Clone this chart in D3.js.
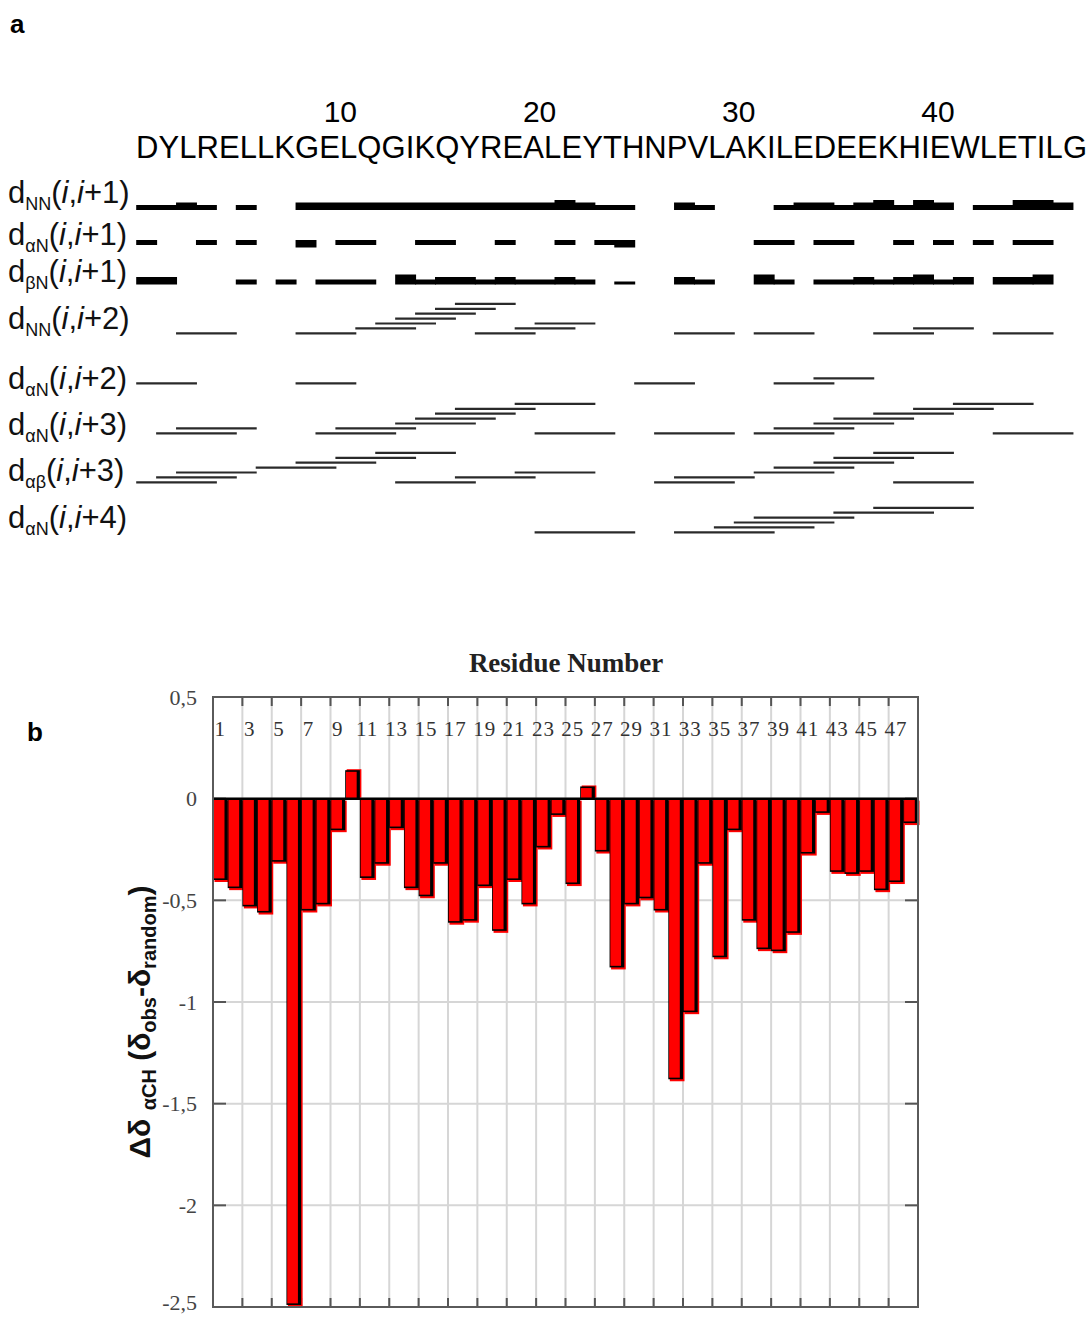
<!DOCTYPE html>
<html>
<head>
<meta charset="utf-8">
<script src="https://cdn.jsdelivr.net/npm/d3@7"></script>
<style>
  body { margin: 0; background: #fff; }
  svg { display: block; background: #fff; }
</style>
</head>
<body>
<div id="chart"></div>
<script>
// ---------- panel a : NOE connectivities ----------
const sequence = "DYLRELLKGELQGIKQYREALEYTHNPVLAKILEDEEKHIEWLETILG";
const seqNumbers = [10, 20, 30, 40];

// row labels: d_sub(i,i+step)
const rowSubs = ["NN", "αN", "βN", "NN", "αN", "αN", "αβ", "αN"];
const rowSteps = [1, 1, 1, 2, 2, 3, 3, 4];

// sequential NOEs, [from, to, strength]
const dNN1 = [[0,2,"w"],[2,3,"m"],[3,4,"w"],[5,6,"w"],[8,21,"m"],[21,22,"s"],[22,23,"m"],[23,25,"w"],
  [27,28,"m"],[28,29,"w"],[32,33,"w"],[33,35,"m"],[35,36,"w"],[36,37,"m"],[37,38,"s"],[38,39,"w"],
  [39,40,"s"],[40,41,"m"],[42,44,"w"],[44,46,"s"],[46,47,"m"]];
const dAN1 = [[0,1,"w"],[3,4,"w"],[5,6,"w"],[8,9,"m"],[10,12,"w"],[14,16,"w"],[18,19,"w"],[21,22,"w"],
  [23,24,"w"],[24,25,"m"],[31,33,"w"],[34,36,"w"],[38,39,"w"],[40,41,"w"],[42,43,"w"],[44,46,"w"]];
const dBN1 = [[0,2,"m"],[5,6,"w"],[7,8,"w"],[9,12,"w"],[13,14,"s"],[14,15,"w"],[15,17,"m"],[17,18,"w"],
  [18,19,"m"],[19,21,"w"],[21,22,"m"],[22,23,"w"],[24,25,"vw"],[27,28,"m"],[28,29,"w"],[31,32,"s"],
  [32,33,"w"],[34,36,"w"],[36,37,"m"],[37,38,"w"],[38,39,"m"],[39,40,"s"],[40,41,"w"],[41,42,"m"],
  [43,45,"m"],[45,46,"s"]];

// medium range NOEs, [from, to, lane]
const dNN2 = [[2,5,0],[8,11,0],[11,14,1],[12,15,2],[13,16,3],[14,17,4],[15,18,5],[16,19,6],
  [17,20,0],[19,22,1],[20,23,2],[27,30,0],[31,34,0],[37,40,0],[39,42,1],[43,46,0]];
const dAN2 = [[0,3,0],[8,11,0],[25,28,0],[32,35,0],[34,37,1]];
const dAN3 = [[1,5,0],[2,6,1],[9,13,0],[10,14,1],[13,17,2],[14,18,3],[15,19,4],[16,20,5],[19,23,6],
  [20,24,0],[26,30,0],[31,35,0],[32,36,1],[34,38,2],[35,39,3],[37,41,4],[39,43,5],[41,45,6],[43,47,0]];
const dAB3 = [[0,4,0],[1,5,1],[2,6,2],[6,10,3],[8,12,4],[10,14,5],[12,16,6],[13,17,0],[16,20,1],
  [19,23,2],[26,30,0],[27,31,1],[31,35,2],[32,36,3],[34,38,4],[35,39,5],[37,41,6],[38,42,0]];
const dAN4 = [[20,25,0],[27,32,0],[29,34,1],[30,35,2],[31,36,3],[35,40,4],[37,42,5]];

// ---------- panel b : chemical shift deviation ----------
const deltaCH = [-0.40,-0.44,-0.53,-0.56,-0.31,-2.49,-0.55,-0.52,-0.155,0.14,
  -0.39,-0.32,-0.145,-0.44,-0.48,-0.32,-0.61,-0.60,-0.43,-0.65,
  -0.40,-0.52,-0.24,-0.08,-0.42,0.06,-0.26,-0.83,-0.52,-0.49,
  -0.55,-1.38,-1.05,-0.32,-0.78,-0.155,-0.60,-0.74,-0.75,-0.66,
  -0.27,-0.07,-0.36,-0.37,-0.36,-0.45,-0.41,-0.12];
const yTicks = [0.5, 0, -0.5, -1, -1.5, -2, -2.5];

const W = 1090, H = 1318;
const sans = "'Liberation Sans', Arial, sans-serif";
const serif = "'Liberation Serif', 'Times New Roman', serif";

const svg = d3.select("#chart").append("svg")
  .attr("width", W)
  .attr("height", H);

// panel letters
svg.append("text").attr("x", 10).attr("y", 33).text("a")
  .style("font", `bold 26px ${sans}`);
svg.append("text").attr("x", 27).attr("y", 741).text("b")
  .style("font", `bold 26px ${sans}`);

// ===== panel a =====
const x = d3.scaleLinear().domain([0, 48]).range([136.2, 136.2 + 48 * 19.92]);

svg.append("text")
  .attr("x", 136).attr("y", 158)
  .attr("textLength", 951).attr("lengthAdjust", "spacing")
  .style("font", `31px ${sans}`)
  .text(sequence);

svg.append("g").selectAll("text")
  .data(seqNumbers)
  .enter().append("text")
  .attr("x", d => x(d + 0.25))
  .attr("y", 122)
  .attr("text-anchor", "middle")
  .style("font", `30px ${sans}`)
  .text(d => d);

// row labels
const labelBase = [203, 245, 282, 329, 389, 435, 481, 528];
const labels = svg.append("g").selectAll("text")
  .data(rowSubs.map((s, i) => ({ sub: s, step: rowSteps[i], y: labelBase[i] })))
  .enter().append("text")
  .attr("x", 8)
  .attr("y", d => d.y)
  .style("font", `31px ${sans}`)
  .style("fill", "#111");
labels.append("tspan").text("d");
labels.append("tspan").attr("dy", 7).style("font-size", "18px").text(d => d.sub);
labels.append("tspan").attr("dy", -7).text("(");
labels.append("tspan").style("font-style", "italic").text("i");
labels.append("tspan").text(",");
labels.append("tspan").style("font-style", "italic").text("i");
labels.append("tspan").text(d => "+" + d.step + ")");

// sequential rows: thickness encodes NOE strength
const strengthH = { vw: 3, w: 5, m: 7.5, s: 10 };
const seqRows = [
  { data: dNN1, y: 210, align: "bottom" },
  { data: dAN1, y: 240, align: "top" },
  { data: dBN1, y: 284.5, align: "bottom" }
];
seqRows.forEach(row => {
  svg.append("g").selectAll("rect")
    .data(row.data)
    .enter().append("rect")
    .attr("x", d => x(d[0]))
    .attr("width", d => x(d[1]) - x(d[0]) + 1)
    .attr("y", d => row.align === "bottom" ? row.y - strengthH[d[2]] : row.y)
    .attr("height", d => strengthH[d[2]])
    .attr("fill", "#000");
});

// medium range rows: stacked thin lines
const laneStep = 4.9;
const lineRows = [
  { data: dNN2, y: 333.3 },
  { data: dAN2, y: 383.3 },
  { data: dAN3, y: 433.3 },
  { data: dAB3, y: 482.3 },
  { data: dAN4, y: 532.3 }
];
lineRows.forEach(row => {
  svg.append("g").selectAll("line")
    .data(row.data)
    .enter().append("line")
    .attr("x1", d => x(d[0]))
    .attr("x2", d => x(d[1]) + 1)
    .attr("y1", d => row.y - d[2] * laneStep)
    .attr("y2", d => row.y - d[2] * laneStep)
    .attr("stroke", "#2a2a2a")
    .attr("stroke-width", 2.2);
});

// ===== panel b =====
const residues = deltaCH.map((v, i) => i + 1);
const xb = d3.scaleBand().domain(residues).range([213, 918]);
const yb = d3.scaleLinear().domain([-2.5, 0.5]).range([1307, 697]);
const bw = xb.bandwidth();
const gridX = residues.filter(r => r % 2 === 1 && r > 1).map(r => xb(r));

// grid
svg.append("g").selectAll("line")
  .data(gridX)
  .enter().append("line")
  .attr("x1", d => d).attr("x2", d => d)
  .attr("y1", 697).attr("y2", 1307)
  .attr("stroke", "#d6d6d6").attr("stroke-width", 2);
svg.append("g").selectAll("line")
  .data(yTicks.slice(1, -1))
  .enter().append("line")
  .attr("x1", 213).attr("x2", 918)
  .attr("y1", d => yb(d)).attr("y2", d => yb(d))
  .attr("stroke", "#d6d6d6").attr("stroke-width", 2);

// inner ticks
const ticks = svg.append("g").attr("stroke", "#555").attr("stroke-width", 2);
gridX.forEach(gx => {
  ticks.append("line").attr("x1", gx).attr("x2", gx).attr("y1", 697).attr("y2", 706);
  ticks.append("line").attr("x1", gx).attr("x2", gx).attr("y1", 1298).attr("y2", 1307);
});
yTicks.slice(1, -1).forEach(t => {
  ticks.append("line").attr("x1", 213).attr("x2", 226).attr("y1", yb(t)).attr("y2", yb(t));
  ticks.append("line").attr("x1", 905).attr("x2", 918).attr("y1", yb(t)).attr("y2", yb(t));
});

// residue numbers inside top of plot
svg.append("g").selectAll("text")
  .data(residues.filter(r => r % 2 === 1))
  .enter().append("text")
  .attr("x", d => xb(d) + bw / 2)
  .attr("y", 736)
  .attr("text-anchor", "middle")
  .style("font", `21px ${serif}`)
  .style("letter-spacing", "1px")
  .style("fill", "#333")
  .text(d => d);

// bars
const bars = svg.append("g").selectAll("g")
  .data(deltaCH.map((v, i) => ({ r: i + 1, v: v })))
  .enter().append("g");
bars.append("rect")
  .attr("x", d => xb(d.r) + 1.5)
  .attr("y", d => Math.min(yb(0), yb(d.v)) + (d.v < 0 ? 2 : -1))
  .attr("width", bw)
  .attr("height", d => Math.abs(yb(d.v) - yb(0)))
  .attr("fill", "#ff0000");
bars.append("rect")
  .attr("x", d => xb(d.r))
  .attr("y", d => Math.min(yb(0), yb(d.v)))
  .attr("width", bw)
  .attr("height", d => Math.abs(yb(d.v) - yb(0)))
  .attr("fill", "#000");
bars.append("rect")
  .attr("x", d => xb(d.r) + 0.8)
  .attr("y", d => d.v < 0 ? yb(0) : yb(d.v) + 1.6)
  .attr("width", bw - 4)
  .attr("height", d => Math.max(0, Math.abs(yb(d.v) - yb(0)) - 1.6))
  .attr("fill", "#ff0000");

// zero line
svg.append("line")
  .attr("x1", 213).attr("x2", 918)
  .attr("y1", yb(0)).attr("y2", yb(0))
  .attr("stroke", "#000").attr("stroke-width", 2.5);

// frame
svg.append("rect")
  .attr("x", 213).attr("y", 697)
  .attr("width", 705).attr("height", 610)
  .attr("fill", "none")
  .attr("stroke", "#5a5a5a")
  .attr("stroke-width", 2);

// y axis labels
const yAxis = svg.append("g")
  .attr("transform", "translate(213,0)")
  .call(d3.axisLeft(yb).tickValues(yTicks).tickSize(0).tickPadding(16)
    .tickFormat(d => String(d).replace(".", ",")));
yAxis.select(".domain").remove();
yAxis.selectAll("text")
  .style("font", `22px ${serif}`)
  .style("fill", "#444");
// keep the lowest label inside the page
yAxis.selectAll("text").filter(d => d === -2.5).attr("dy", "0.1em");

// title
svg.append("text")
  .attr("x", 566).attr("y", 672)
  .attr("text-anchor", "middle")
  .style("font", `bold 27px ${serif}`)
  .style("fill", "#222")
  .text("Residue Number");

// y title
const yt = svg.append("text")
  .attr("transform", "translate(150,1022) rotate(-90)")
  .attr("text-anchor", "middle")
  .style("font", `bold 30px ${sans}`)
  .style("fill", "#111");
yt.append("tspan").text("Δδ ");
yt.append("tspan").attr("dy", 6).style("font-size", "20px").text("αCH");
yt.append("tspan").attr("dy", -6).text(" (δ");
yt.append("tspan").attr("dy", 6).style("font-size", "20px").text("obs");
yt.append("tspan").attr("dy", -6).text("-δ");
yt.append("tspan").attr("dy", 6).style("font-size", "20px").text("random");
yt.append("tspan").attr("dy", -6).text(")");
</script>
</body>
</html>
